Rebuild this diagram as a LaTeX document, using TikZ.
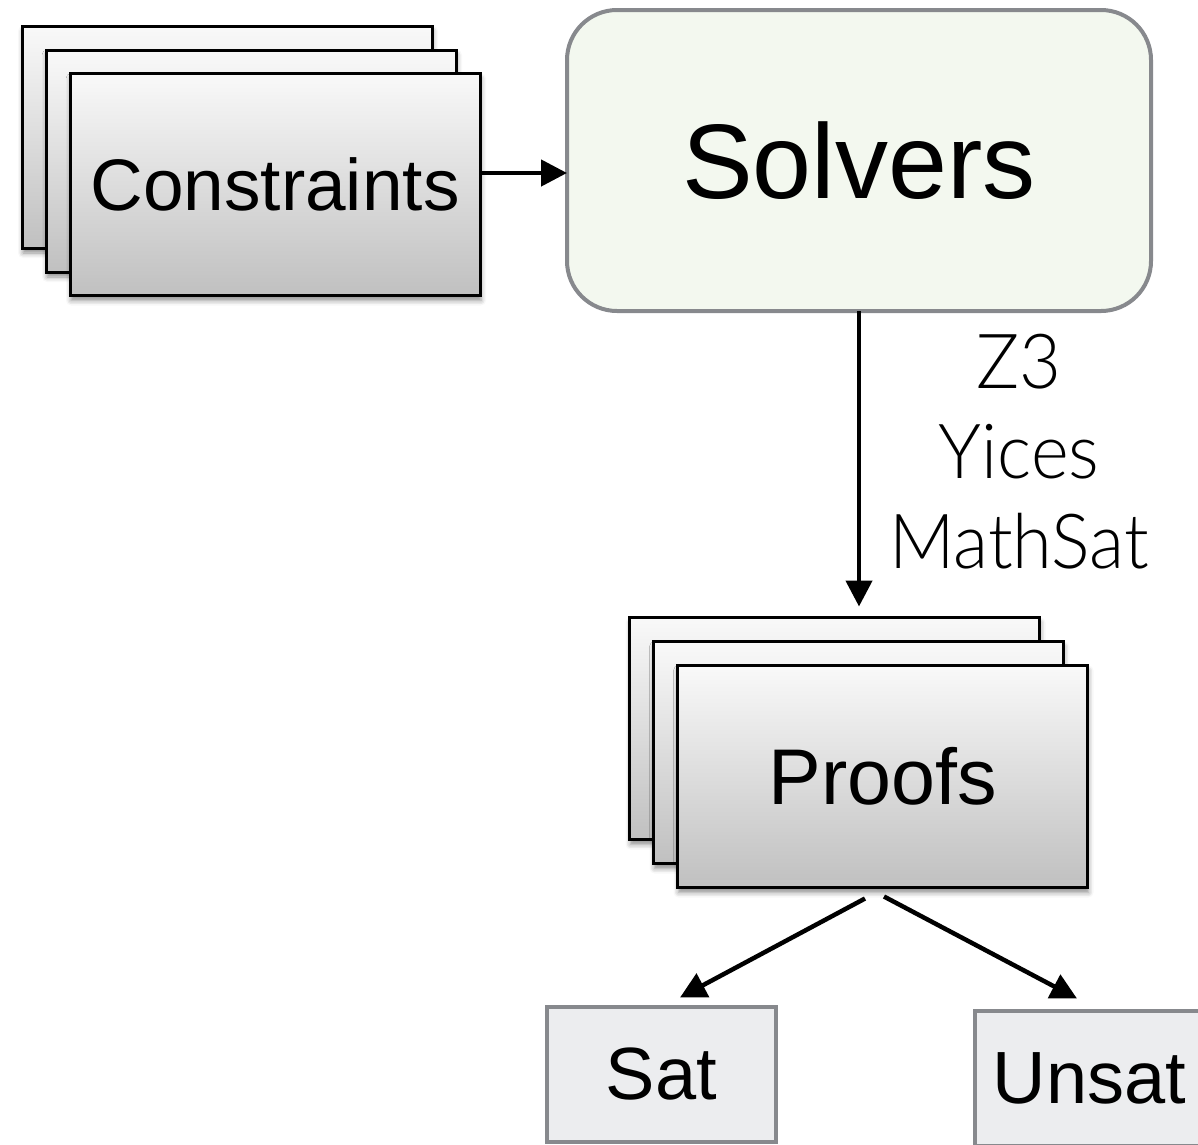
\documentclass[tikz,border=0pt]{standalone}
\usepackage{fontspec}
\setmainfont{Liberation Sans}
\IfFontExistsTF{Lato Light}{\newfontfamily\lightfont[FakeStretch=0.95]{Lato Light}}{\newfontfamily\lightfont[FakeStretch=0.92]{Liberation Sans}}
\usetikzlibrary{arrows.meta,shadows.blur}
\definecolor{solverfill}{HTML}{F3F8EF}
\definecolor{boxgray}{HTML}{87898D}
\definecolor{resfill}{HTML}{ECEDEF}
\definecolor{stacktop}{HTML}{F9F9F9}
\definecolor{stackbot}{HTML}{C0C0C0}
\tikzset{
  stackbox/.style={draw=black, line width=3pt, top color=stacktop, bottom color=stackbot,
    minimum width=410pt, minimum height=222pt, inner sep=0pt, outer sep=0pt,
    blur shadow={shadow xshift=1pt, shadow yshift=-5pt, shadow blur radius=5pt, shadow opacity=45}},
  solverbox/.style={draw=boxgray, line width=4pt, fill=solverfill, rounded corners=50pt,
    minimum width=584pt, minimum height=301pt, inner sep=0pt, outer sep=0pt},
  resbox/.style={draw=boxgray, line width=4pt, fill=resfill,
    minimum width=229pt, minimum height=135pt, inner sep=0pt, outer sep=0pt},
  arr/.style={line width=4.5pt, -{Triangle[length=26pt,width=26pt]}},
}
\begin{document}
\begin{tikzpicture}[x=1pt,y=-1pt]
\useasboundingbox (0,0) rectangle (1198,1144);
\clip (0,0) rectangle (1198,1144);
% Constraints stack
\node[stackbox] (cback) at (227,137) {};
\node[stackbox] (cmid) at (251,161) {};
\node[stackbox, font=\fontsize{73}{80}\selectfont] (cfront) at (275,184.5) {Constraints};
% Solvers
\node[solverbox, font=\fontsize{106}{120}\selectfont] (solvers) at (859,160.5) {Solvers};
% Proofs stack
\node[stackbox] (pback) at (834.5,728.5) {};
\node[stackbox] (pmid) at (858.5,752.5) {};
\node[stackbox, font=\fontsize{79}{90}\selectfont] (pfront) at (882.5,776.5) {Proofs};
% Results
\node[resbox, font=\fontsize{74}{80}\selectfont] (sat) at (661.5,1074.5) {Sat};
\node[resbox, font=\fontsize{74}{80}\selectfont] (unsat) at (1089.5,1078.5) {Unsat};
% Label
\node[align=center, inner sep=0pt, font=\lightfont\fontsize{76}{90}\selectfont] (lbl) at (1019,452) {Z3\\Yices\\MathSat};
% Connectors
\coordinate (hstart) at ([yshift=11.5pt]cfront.east);
\draw[arr] (hstart) -- (hstart -| solvers.west);
\draw[arr, shorten >=11pt] (solvers.south) -- (solvers.south |- pback.north);
\draw[arr] ([xshift=-17.5pt,yshift=-11pt]pfront.south) -- ([xshift=18.5pt,yshift=9.5pt]sat.north);
\draw[arr] ([xshift=1.5pt,yshift=-9pt]pfront.south) -- ([xshift=-12.5pt,yshift=12.5pt]unsat.north);
\end{tikzpicture}
\end{document}
